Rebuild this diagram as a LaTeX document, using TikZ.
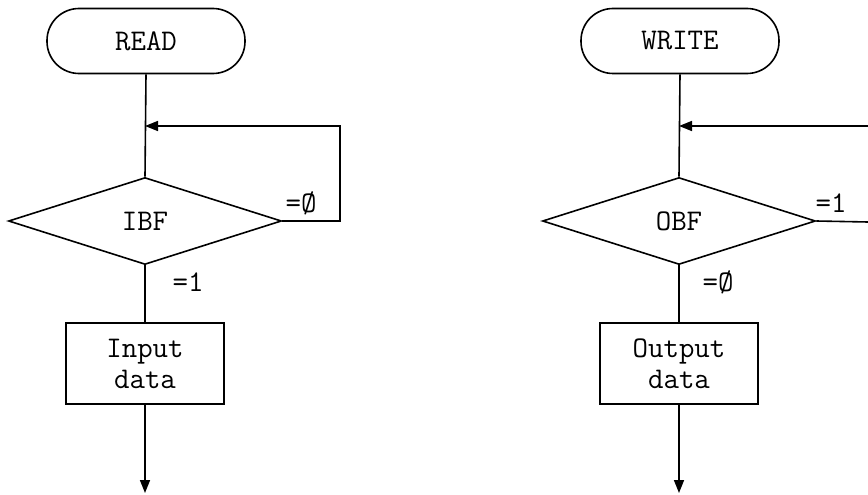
\documentclass[tikz,border=0pt]{standalone}
\usetikzlibrary{shapes.geometric,arrows.meta}
\begin{document}
\begin{tikzpicture}[x=1pt,y=-1pt,
  every node/.style={font=\ttfamily\fontsize{30}{31}\selectfont},
  line/.style={line width=1.6pt},
  arr/.style={line width=1.6pt,-{Triangle[length=13pt,width=10pt]}},
  term/.style={draw,line width=1.6pt,rectangle,rounded corners=32pt,minimum width=198pt,minimum height=65pt,inner sep=0pt},
  dec/.style={draw,line width=1.6pt,diamond,aspect=3.14,minimum width=273pt,minimum height=87pt,inner sep=0pt},
  proc/.style={draw,line width=1.6pt,rectangle,minimum width=158pt,minimum height=81pt,inner sep=0pt,align=center},
  lbl/.style={inner sep=0pt}]
\useasboundingbox (0,0) rectangle (868,495);
% left chart
\node[term] (read) at (146,41) {READ};
\node[dec] (ibf) at (145,221) {IBF};
\node[proc] (inb) at (145,363.5) {Input\\data};
\coordinate (jl) at (145,126);
\coordinate (lr) at (340,126);
\coordinate (endl) at (145,493);
\draw[line] (read.south) -- (ibf.north);
\draw[arr] (ibf.east) -| (lr) -- (jl);
\draw[line] (ibf.south) -- (inb.north);
\draw[arr] (inb.south) -- (endl);
\node[lbl] (l0) at (301,203) {=Ø};
\node[lbl] (l1) at (188,282) {=1};
% right chart
\node[term] (write) at (680,41) {WRITE};
\node[dec] (obf) at (679,221) {OBF};
\node[proc] (outb) at (679,363.5) {Output\\data};
\coordinate (jr) at (679,126);
\coordinate (er1) at (868,222);
\coordinate (er2) at (868,126);
\coordinate (endr) at (679,493);
\draw[line] (write.south) -- (obf.north);
\draw[line] (obf.east) -- (er1);
\draw[arr] (er2) -- (jr);
\draw[line] (obf.south) -- (outb.north);
\draw[arr] (outb.south) -- (endr);
\node[lbl] (r1) at (831,203) {=1};
\node[lbl] (r0) at (718,282) {=Ø};
\end{tikzpicture}
\end{document}
